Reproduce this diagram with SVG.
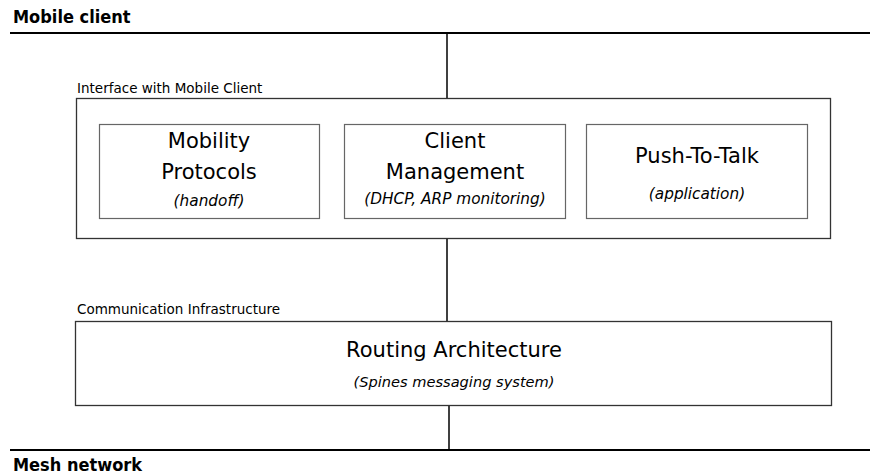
<svg xmlns="http://www.w3.org/2000/svg" width="870" height="475" viewBox="0 0 870 475">
  <style>
    text { font-family: "DejaVu Sans", sans-serif; fill: #000; }
    .layer { font-family: "DejaVu Sans Condensed", "DejaVu Sans", sans-serif; font-size: 18px; font-weight: bold; }
    .caption { font-size: 13.5px; }
    .title { font-size: 21px; text-anchor: middle; }
    .sub { font-size: 15.3px; font-style: italic; text-anchor: middle; }
    .sub.wide { font-size: 14.6px; }
    .outer { fill: #fff; stroke: #333; stroke-width: 1.3; }
    .inner { fill: #fff; stroke: #666; stroke-width: 1.2; }
    .bus { stroke: #000; stroke-width: 2; fill: none; }
    .link { stroke: #000; stroke-width: 1.5; fill: none; }
  </style>
  <rect width="870" height="475" fill="#fff"/>

  <!-- horizontal layer lines and vertical links -->
  <g id="connectors">
    <line class="bus" x1="10" y1="33" x2="870" y2="33"/>
    <line class="bus" x1="10" y1="450" x2="870" y2="450"/>
    <line class="link" x1="447" y1="33" x2="447" y2="99"/>
    <line class="link" x1="447" y1="238" x2="447" y2="322"/>
    <line class="link" x1="449" y1="406" x2="449" y2="450"/>
  </g>

  <g id="mobile-client">
    <text class="layer" x="13" y="22.5">Mobile client</text>
  </g>

  <g id="mesh-network">
    <text class="layer" x="13" y="471">Mesh network</text>
  </g>

  <g id="interface">
    <text class="caption" x="77" y="93">Interface with Mobile Client</text>
    <rect class="outer" x="76.5" y="98.5" width="754" height="140"/>
  </g>

  <g id="mobility-protocols">
    <rect class="inner" x="99.5" y="124.5" width="220" height="94"/>
    <text class="title" x="209" y="148">Mobility</text>
    <text class="title" x="209" y="179">Protocols</text>
    <text class="sub" x="209" y="206">(handoff)</text>
  </g>

  <g id="client-management">
    <rect class="inner" x="344.5" y="124.5" width="221" height="94"/>
    <text class="title" x="455" y="148">Client</text>
    <text class="title" x="455" y="179">Management</text>
    <text class="sub" x="455" y="204">(DHCP, ARP monitoring)</text>
  </g>

  <g id="push-to-talk">
    <rect class="inner" x="586.5" y="124.5" width="221" height="94"/>
    <text class="title" x="697" y="163">Push-To-Talk</text>
    <text class="sub" x="697" y="199">(application)</text>
  </g>

  <g id="routing-architecture">
    <text class="caption" x="77" y="314">Communication Infrastructure</text>
    <rect class="outer" x="75.5" y="321.5" width="756" height="84"/>
    <text class="title" x="454" y="357">Routing Architecture</text>
    <text class="sub wide" x="454" y="387">(Spines messaging system)</text>
  </g>
</svg>
